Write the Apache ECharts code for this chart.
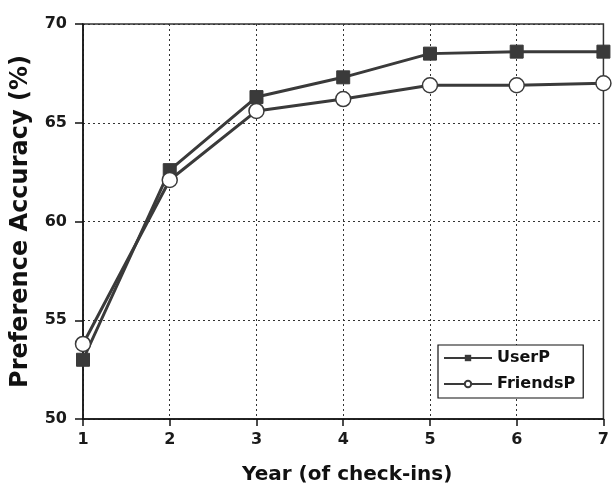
<!DOCTYPE html>
<html><head><meta charset="utf-8">
<script src="https://cdn.jsdelivr.net/npm/echarts@6/dist/echarts.min.js"></script>
<style>html,body{margin:0;padding:0;background:#fff}#c{width:612px;height:490px}</style>
</head><body><div id="c"></div>
<script>
const years = [1, 2, 3, 4, 5, 6, 7];
const userP = [53.0, 62.6, 66.3, 67.3, 68.5, 68.6, 68.6];
const friendsP = [53.8, 62.1, 65.6, 66.2, 66.9, 66.9, 67.0];
const yTicks = [50, 55, 60, 65, 70];

const chart = echarts.init(document.getElementById('c'));
const font = '"DejaVu Sans", Arial, sans-serif';
chart.setOption({
  animation: false,
  grid: {left: 83, right: 2, top: 24, bottom: 67, show: true, borderColor: '#333', borderWidth: 1.5},
  xAxis: {
    type: 'value', min: 1, max: 7, interval: 1,
    name: 'Year (of check-ins)', nameLocation: 'middle', nameGap: 46,
    nameTextStyle: {fontFamily: font, fontWeight: 'bold', fontSize: 20, color: '#111', padding: [0, 0, 0, 8]},
    axisLine: {lineStyle: {color: '#111', width: 1.5}},
    axisTick: {show: true, length: 7, lineStyle: {color: '#111', width: 1.5}},
    axisLabel: {fontFamily: font, fontWeight: 'bold', fontSize: 16, color: '#1a1a1a', margin: 13},
    splitLine: {show: true, lineStyle: {type: [2, 3], color: '#333', width: 1}}
  },
  yAxis: {
    type: 'value', min: 50, max: 70, interval: 5,
    name: 'Preference Accuracy (%)', nameLocation: 'middle', nameGap: 50,
    nameTextStyle: {fontFamily: font, fontWeight: 'bold', fontSize: 24, color: '#111'},
    axisLine: {show: true, lineStyle: {color: '#111', width: 1.5}},
    axisTick: {show: true, length: 8, lineStyle: {color: '#111', width: 1.5}},
    axisLabel: {fontFamily: font, fontWeight: 'bold', fontSize: 16, color: '#1a1a1a', margin: 16,
      formatter: v => yTicks.includes(v) ? String(v) : ''},
    splitLine: {show: true, lineStyle: {type: [2, 3], color: '#333', width: 1}}
  },
  legend: {
    orient: 'vertical', left: 438, top: 345,
    backgroundColor: '#fff', borderColor: '#111', borderWidth: 1.2,
    padding: [5, 8, 6, 5], itemGap: 10, itemWidth: 48, itemHeight: 8,
    textStyle: {fontFamily: font, fontWeight: 'bold', fontSize: 16, color: '#111'},
    data: ['UserP', 'FriendsP']
  },
  series: [
    {
      name: 'UserP', type: 'line', data: years.map((x, i) => [x, userP[i]]),
      symbol: 'rect', symbolSize: 13,
      lineStyle: {color: '#3a3a3a', width: 3},
      itemStyle: {color: '#3a3a3a', borderColor: '#3a3a3a'}
    },
    {
      name: 'FriendsP', type: 'line', data: years.map((x, i) => [x, friendsP[i]]),
      symbol: 'circle', symbolSize: 15,
      lineStyle: {color: '#3a3a3a', width: 3},
      itemStyle: {color: '#fff', borderColor: '#3a3a3a', borderWidth: 1.5}
    }
  ]
});
</script></body></html>
